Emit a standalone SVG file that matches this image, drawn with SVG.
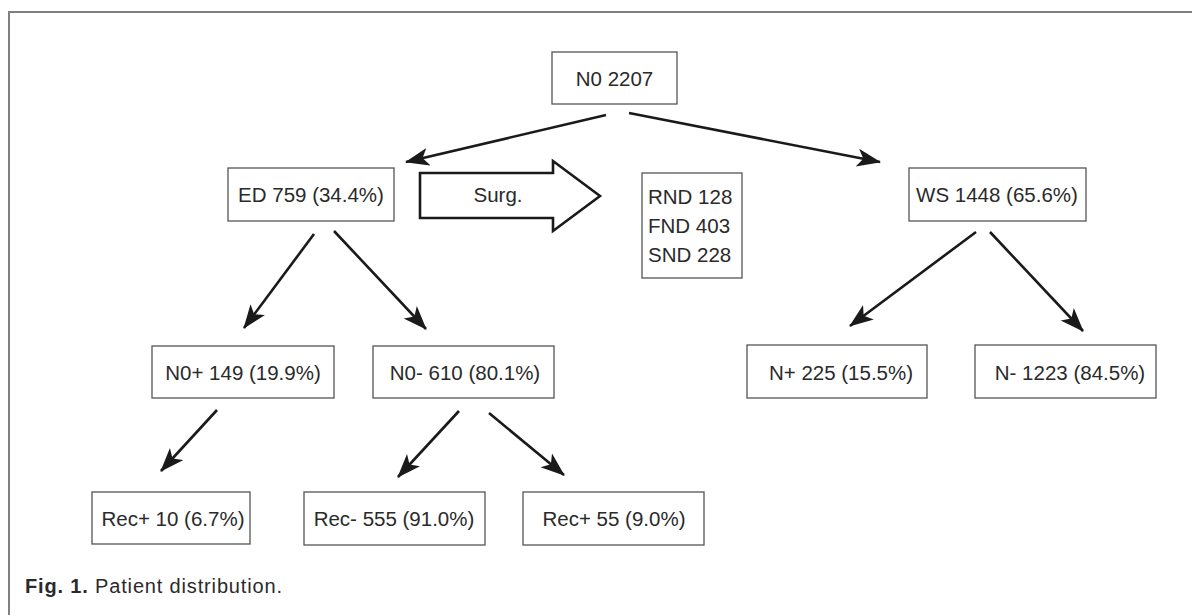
<svg xmlns="http://www.w3.org/2000/svg" width="1192" height="615" viewBox="0 0 1192 615">
<style>
.frame{fill:none;stroke:#808080;stroke-width:2}
.box{fill:#fff;stroke:#555;stroke-width:1.3}
.t{font-family:"Liberation Sans",Arial,sans-serif;font-size:20.5px;fill:#2a2a2a;text-anchor:middle}
.tl{font-family:"Liberation Sans",Arial,sans-serif;font-size:20.5px;fill:#2a2a2a}
.c{stroke:#1a1a1a;stroke-width:2.6;fill:none}
.cap{font-family:"Liberation Sans",Arial,sans-serif;font-size:20px;fill:#2a2a2a}
</style>
<defs>
<marker id="ah" markerUnits="userSpaceOnUse" markerWidth="28" markerHeight="20" refX="23" refY="9" orient="auto">
<path d="M0,0 L24,9 L0,18 L6,9 z" fill="#1a1a1a"/>
</marker>
</defs>
<rect width="1192" height="615" fill="#fff"/>
<path class="frame" d="M9,615 V12 H1192"/>
<g id="connectors">
<line class="c" x1="606" y1="115" x2="406" y2="162" marker-end="url(#ah)"/>
<line class="c" x1="629" y1="113" x2="880" y2="162" marker-end="url(#ah)"/>
<line class="c" x1="314" y1="234" x2="244" y2="328" marker-end="url(#ah)"/>
<line class="c" x1="334" y1="231" x2="426" y2="329" marker-end="url(#ah)"/>
<line class="c" x1="976" y1="232" x2="850" y2="326" marker-end="url(#ah)"/>
<line class="c" x1="990" y1="232" x2="1083" y2="331" marker-end="url(#ah)"/>
<line class="c" x1="217" y1="410" x2="161" y2="471" marker-end="url(#ah)"/>
<line class="c" x1="459" y1="411" x2="398" y2="477" marker-end="url(#ah)"/>
<line class="c" x1="489" y1="413" x2="564" y2="475" marker-end="url(#ah)"/>
</g>
<g id="n0"><rect class="box" x="552" y="52" width="125" height="52"/><text class="t" x="614.5" y="86">N0 2207</text></g>
<g id="ed"><rect class="box" x="228" y="168" width="166" height="53"/><text class="t" x="311" y="202">ED 759 (34.4%)</text></g>
<g id="surg"><path d="M420,173 H553 V161 L600,196 L553,231 V218 H420 Z" fill="#fff" stroke="#1a1a1a" stroke-width="2.6" stroke-linejoin="miter"/><text class="t" x="498" y="202">Surg.</text></g>
<g id="nd"><rect class="box" x="642" y="173" width="100" height="105"/>
<text class="tl" x="648" y="204">RND 128</text>
<text class="tl" x="648" y="233">FND 403</text>
<text class="tl" x="648" y="262">SND 228</text></g>
<g id="ws"><rect class="box" x="909" y="168" width="177" height="53"/><text class="t" x="997" y="202">WS 1448 (65.6%)</text></g>
<g id="n0p"><rect class="box" x="152" y="346" width="182" height="52"/><text class="t" x="243" y="380">N0+ 149 (19.9%)</text></g>
<g id="n0m"><rect class="box" x="373" y="346" width="181" height="52"/><text class="t" x="465" y="380">N0- 610 (80.1%)</text></g>
<g id="np"><rect class="box" x="747" y="345" width="180" height="53"/><text class="t" x="841" y="380">N+ 225 (15.5%)</text></g>
<g id="nm"><rect class="box" x="975" y="345" width="181" height="53"/><text class="t" x="1070" y="380">N- 1223 (84.5%)</text></g>
<g id="recp10"><rect class="box" x="92" y="492" width="158" height="52"/><text class="t" x="173" y="526">Rec+ 10 (6.7%)</text></g>
<g id="recm555"><rect class="box" x="304" y="492" width="181" height="53"/><text class="t" x="394" y="526">Rec- 555 (91.0%)</text></g>
<g id="recp55"><rect class="box" x="523" y="492" width="181" height="53"/><text class="t" x="614" y="526">Rec+ 55 (9.0%)</text></g>
<text class="cap" x="25" y="593" textLength="257" lengthAdjust="spacing"><tspan font-weight="bold">Fig. 1.</tspan> Patient distribution.</text>
</svg>
